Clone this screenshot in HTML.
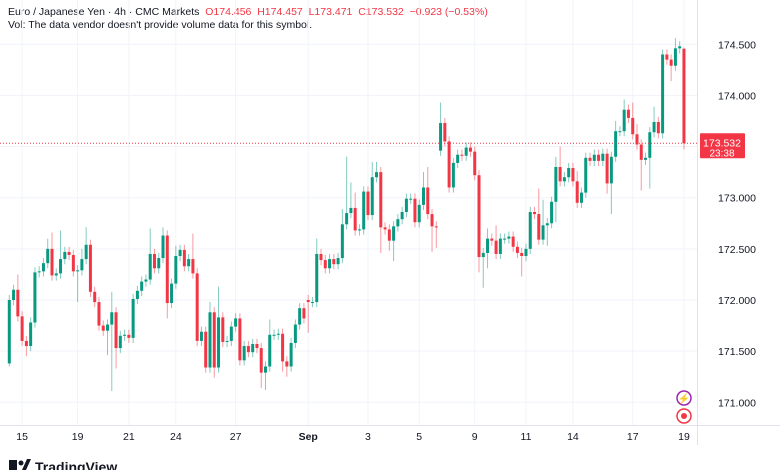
<!DOCTYPE html>
<html><head><meta charset="utf-8"><style>
html,body{margin:0;padding:0;background:#fff;width:780px;height:470px;overflow:hidden;font-family:"Liberation Sans",sans-serif}
#wrap{position:relative;width:780px;height:470px}
.hdr{position:absolute;left:8px;font-size:10.5px;color:#131722;white-space:nowrap}
.r{color:#F23645}
svg{position:absolute;left:0;top:0}
</style></head><body>
<div id="wrap">
<div class="hdr" style="top:6px">Euro / Japanese Yen · 4h · CMC Markets&nbsp; <span class="r">O174.456&nbsp; H174.457&nbsp; L173.471&nbsp; C173.532&nbsp; −0.923 (−0.53%)</span></div>
<div class="hdr" style="top:19px">Vol: The data vendor doesn't provide volume data for this symbol.</div>
<svg id="chart" width="780" height="470"></svg>
</div>
<script>
const closes=[172.00,172.10,171.84,171.60,171.55,171.78,172.27,172.28,172.36,172.50,
172.24,172.26,172.40,172.47,172.44,172.28,172.29,172.40,172.54,172.08,
171.98,171.75,171.70,171.76,171.88,171.53,171.65,171.66,171.63,172.01,
172.09,172.18,172.20,172.45,172.31,172.41,172.63,171.97,172.16,172.43,
172.49,172.33,172.40,172.26,171.60,171.69,171.34,171.88,171.34,171.83,
171.59,171.60,171.74,171.82,171.41,171.55,171.49,171.57,171.53,171.29,
171.35,171.66,171.66,171.67,171.40,171.35,171.58,171.76,171.92,171.82,
171.98,171.98,172.45,172.39,172.31,172.40,172.35,172.41,172.74,172.85,
172.90,172.68,172.69,173.06,172.83,173.20,173.25,172.71,172.69,172.58,
172.72,172.79,172.86,172.99,172.99,172.76,172.93,173.10,172.84,172.72,
172.71,173.73,173.55,173.10,173.34,173.42,173.41,173.49,173.45,173.22,
172.42,172.46,172.60,172.58,172.45,172.60,172.60,172.62,172.52,172.46,
172.43,172.50,172.86,172.84,172.59,172.73,172.75,172.96,173.30,173.16,
173.20,173.29,173.16,172.95,173.05,173.39,173.36,173.42,173.36,173.43,
173.14,173.40,173.65,173.65,173.86,173.78,173.62,173.52,173.37,173.39,
173.64,173.74,173.63,174.40,174.35,174.29,174.46,174.48,173.532];
const opens=[171.38,172.00,172.10,171.84,171.60,171.55,171.78,172.27,172.28,172.36,
172.50,172.24,172.26,172.40,172.47,172.44,172.28,172.29,172.40,172.54,
172.08,171.98,171.75,171.70,171.76,171.88,171.53,171.65,171.66,171.63,
172.01,172.09,172.18,172.20,172.45,172.31,172.41,172.63,171.97,172.16,
172.43,172.49,172.33,172.40,172.26,171.60,171.69,171.34,171.88,171.34,
171.83,171.59,171.60,171.74,171.82,171.41,171.55,171.49,171.57,171.53,
171.29,171.35,171.66,171.66,171.67,171.40,171.35,171.58,171.76,171.92,
172.00,171.98,171.98,172.45,172.39,172.31,172.40,172.35,172.41,172.74,
172.85,172.90,172.68,172.69,173.06,172.83,173.20,173.25,172.71,172.69,
172.58,172.72,172.79,172.86,172.99,172.99,172.76,172.93,173.10,172.84,
172.72,173.46,173.73,173.55,173.10,173.34,173.42,173.41,173.49,173.45,
173.22,172.42,172.46,172.60,172.58,172.45,172.60,172.60,172.62,172.52,
172.46,172.43,172.50,172.86,172.84,172.59,172.73,172.75,172.96,173.30,
173.16,173.20,173.29,173.16,172.95,173.05,173.39,173.36,173.42,173.36,
173.43,173.14,173.40,173.65,173.65,173.86,173.78,173.62,173.52,173.37,
173.39,173.64,173.74,173.63,174.40,174.35,174.29,174.46,174.456];
const upWick=[.05,.05,.15,.05,.05,.05,.05,.05,.05,.1,
.16,.05,.28,.05,.05,.05,.05,.1,.17,.05,
.05,.05,.05,.05,.2,.05,.05,.05,.05,.05,
.05,.05,.05,.25,.05,.05,.08,.05,.05,.1,
.05,.05,.05,.25,.05,.05,.05,.1,.05,.3,
.05,.05,.05,.05,.05,.05,.05,.05,.05,.05,
.05,.15,.05,.05,.05,.05,.05,.05,.05,.05,
.05,.05,.15,.05,.05,.05,.05,.05,.15,.55,
.25,.15,.05,.05,.05,.15,.1,.05,.05,.05,
.05,.05,.05,.05,.05,.05,.05,.15,.2,.05,
.05,.2,.05,.05,.05,.05,.05,.05,.05,.05,
.05,.05,.1,.05,.15,.05,.05,.05,.05,.05,
.05,.05,.05,.05,.25,.25,.05,.05,.1,.2,
.05,.05,.05,.1,.05,.05,.05,.05,.05,.05,
.05,.05,.1,.05,.1,.05,.15,.1,.05,.05,
.05,.15,.05,.05,.05,.05,.1,.05,.01];
const downWick=[.03,.05,.05,.05,.1,.05,.05,.05,.05,.05,
.05,.05,.05,.05,.05,.05,.3,.05,.05,.05,
.05,.05,.05,.24,.65,.2,.05,.05,.05,.05,
.05,.05,.05,.05,.05,.05,.05,.15,.05,.05,
.05,.05,.05,.05,.05,.05,.05,.05,.1,.05,
.05,.05,.05,.05,.05,.05,.05,.05,.05,.15,
.17,.05,.05,.05,.1,.1,.05,.05,.05,.05,
.3,.05,.05,.05,.05,.05,.05,.05,.05,.05,
.05,.05,.05,.05,.05,.05,.05,.25,.05,.1,
.2,.05,.05,.05,.05,.05,.05,.05,.05,.25,
.2,.05,.05,.05,.05,.05,.05,.05,.05,.05,
.15,.3,.15,.05,.05,.05,.05,.05,.05,.05,
.2,.05,.05,.05,.05,.05,.2,.05,.2,.05,
.05,.05,.05,.05,.05,.05,.05,.05,.05,.05,
.1,.3,.05,.05,.05,.05,.05,.05,.3,.05,
.3,.05,.05,.05,.05,.15,.05,.05,.06];
const priceTicks=[174.5,174.0,173.5,173.0,172.5,172.0,171.5,171.0];
const dateLabels=["15","19","21","24","27","Sep","3","5","9","11","14","17","19"];
const dateIndex=[3,16,28,39,53,70,84,96,109,121,132,146,158];
const lastPrice=173.532, countdown="23:38";

const NS="http://www.w3.org/2000/svg";
const svg=document.getElementById('chart');
const PW=697;
function y(p){return 300-(p-172)*102.3;}
function x(i){return 9.3+i*4.27;}
function mk(t,a,parent){const e=document.createElementNS(NS,t);for(const k in a)e.setAttribute(k,a[k]);(parent||svg).appendChild(e);return e;}

// grid
priceTicks.forEach(p=>{const l=mk('line',{x1:0,x2:PW,y1:y(p),y2:y(p),stroke:'#f0f3fa','stroke-width':1});

});
dateIndex.forEach(i=>{const l=mk('line',{x1:x(i),x2:x(i),y1:0,y2:425,stroke:'#f0f3fa','stroke-width':1});

});
mk('line',{x1:PW+0.5,x2:PW+0.5,y1:0,y2:445,stroke:'#e0e3eb'});
mk('line',{x1:0,x2:780,y1:425.5,y2:425.5,stroke:'#e0e3eb'});

// candles
for(let i=0;i<closes.length;i++){
  const o=opens[i],c=closes[i];
  const hi=Math.max(o,c)+upWick[i],lo=Math.min(o,c)-downWick[i];
  const col=c>=o?'#089981':'#F23645';
  const g=mk('g',{});
  
  
  mk('line',{x1:x(i),x2:x(i),y1:y(hi),y2:y(lo),stroke:col,'stroke-opacity':0.5,'stroke-width':1},g);
  const top=y(Math.max(o,c)),h=Math.max(1,Math.abs(y(o)-y(c)));
  mk('rect',{x:x(i)-1.5,y:top,width:3,height:h,fill:col},g);
}

// last price line
const lp=mk('line',{x1:0,x2:PW,y1:y(lastPrice),y2:y(lastPrice),stroke:'#F23645','stroke-width':1,'stroke-dasharray':'1 2'});



// price labels
priceTicks.forEach(p=>{ if(Math.abs(p-lastPrice)<0.15)return;
 const t=mk('text',{x:737,y:y(p)+4,'font-size':10.5,fill:'#131722','text-anchor':'middle','font-family':'Liberation Sans, sans-serif'});
 t.textContent=p.toFixed(3);
 
 });
const box=mk('rect',{x:700,y:y(lastPrice)-10,width:45,height:25,fill:'#F23645',rx:1});


const t1=mk('text',{x:722,y:y(lastPrice)+3,'font-size':10.5,fill:'#fff','text-anchor':'middle','font-family':'Liberation Sans, sans-serif'});
t1.textContent=lastPrice.toFixed(3);


const t2=mk('text',{x:722,y:y(lastPrice)+13,'font-size':10,fill:'#fff','text-anchor':'middle','font-family':'Liberation Sans, sans-serif'});
t2.textContent=countdown;



// date labels
dateLabels.forEach((d,k)=>{const t=mk('text',{x:x(dateIndex[k]),y:440,'font-size':10.5,fill:'#131722','text-anchor':'middle','font-family':'Liberation Sans, sans-serif','font-weight':d==='Sep'?'bold':'normal'});
 t.textContent=d;
 
 });

// icons
const c1=mk('circle',{cx:684,cy:398,r:7,fill:'#fff',stroke:'#9c27b0','stroke-width':1.5});


const lt=mk('text',{x:684,y:402,'font-size':10,fill:'#9c27b0','text-anchor':'middle'});lt.textContent='⚡';
const c2=mk('circle',{cx:684,cy:416,r:7,fill:'#fff',stroke:'#F23645','stroke-width':1.5});


mk('circle',{cx:684,cy:416,r:3,fill:'#F23645'});

// logo
const lg=mk('g',{});


mk('rect',{x:9,y:460,width:8,height:10,fill:'#131722'},lg);
mk('circle',{cx:21,cy:463,r:2.5,fill:'#131722'},lg);
mk('polygon',{points:'22,470 27,459 31,459 26,470',fill:'#131722'},lg);
const lt2=mk('text',{x:35,y:472,'font-size':14,'font-weight':'bold',fill:'#131722','font-family':'Liberation Sans, sans-serif'},lg);
lt2.textContent='TradingView';
</script>
</body></html>
